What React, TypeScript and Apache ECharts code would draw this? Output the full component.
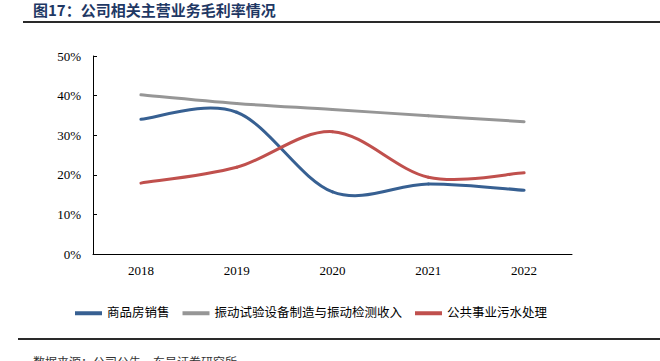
import React, { useEffect, useRef } from "react";
import * as echarts from "echarts";

const categories = ["2018", "2019", "2020", "2021", "2022"];
const seriesNames = ["商品房销售", "振动试验设备制造与振动检测收入", "公共事业污水处理"];
const housingSales = [34.0, 35.8, 15.7, 17.7, 16.1];
const vibrationTesting = [40.2, 38.0, 36.5, 34.9, 33.4];
const sewageTreatment = [17.9, 21.9, 30.9, 19.4, 20.5];
const yTicks = [0, 10, 20, 30, 40, 50];

const titleText = "图17：公司相关主营业务毛利率情况";
const sourceText = "数据来源：公司公告，东吴证券研究所";

export default function App() {
  const ref = useRef<HTMLDivElement>(null);
  useEffect(() => {
    document.body.style.margin = "0";
    if (!ref.current) return;
    const chart = echarts.init(ref.current, null, { renderer: "svg" });
    const serif = "'Liberation Serif', 'Times New Roman', serif";
    const cjk = "'Liberation Serif', 'Noto Sans CJK SC', serif";
    const colors = ["#376092", "#969696", "#C0504D"];
    const data = [housingSales, vibrationTesting, sewageTreatment];

    const makeRender = (values: number[], color: string) => (params: any, api: any) => {
      const i = params.dataIndex;
      const n = values.length;
      if (i >= n - 1) return { type: "group", children: [] };
      const c = (k: number) => api.coord([Math.max(0, Math.min(n - 1, k)), values[Math.max(0, Math.min(n - 1, k))]]);
      const p0 = c(i - 1);
      const p1 = c(i);
      const p2 = c(i + 1);
      const p3 = c(i + 2);
      return {
        type: "bezierCurve",
        shape: {
          x1: p1[0],
          y1: p1[1],
          x2: p2[0],
          y2: p2[1],
          cpx1: p1[0] + (p2[0] - p0[0]) / 6,
          cpy1: p1[1] + (p2[1] - p0[1]) / 6,
          cpx2: p2[0] - (p3[0] - p1[0]) / 6,
          cpy2: p2[1] - (p3[1] - p1[1]) / 6,
        },
        style: { stroke: color, lineWidth: 3, fill: null, lineCap: "round" },
      };
    };

    chart.setOption({
      animation: false,
      backgroundColor: "#ffffff",
      color: colors,
      grid: { left: 93, right: 88, top: 56, bottom: 107, containLabel: false },
      graphic: [
        {
          type: "line",
          shape: { x1: 23, y1: 22, x2: 660, y2: 22 },
          style: { stroke: "#2a2a2a", lineWidth: 2 },
        },
        {
          type: "line",
          shape: { x1: 18, y1: 339, x2: 660, y2: 339 },
          style: { stroke: "#2a2a2a", lineWidth: 2 },
        },
        {
          type: "text",
          x: 33,
          y: 9,
          style: {
            text: titleText,
            font: "bold 15px 'Noto Sans CJK SC', sans-serif",
            fill: "#1F3864",
            verticalAlign: "middle",
            align: "left",
          },
        },
        {
          type: "text",
          x: 33,
          y: 355,
          style: {
            text: sourceText,
            font: "12px 'Noto Sans CJK SC', sans-serif",
            fill: "#333333",
            verticalAlign: "top",
          },
        },
      ],
      legend: {
        top: 302,
        left: 70,
        itemWidth: 27,
        itemHeight: 4,
        itemGap: 13,
        icon: "rect",
        textStyle: { fontFamily: cjk, fontSize: 12.5, color: "#000000", padding: [0, 0, 0, 0] },
        data: seriesNames.map((name, i) => ({ name, itemStyle: { color: colors[i] } })),
      },
      xAxis: {
        type: "category",
        data: categories,
        boundaryGap: true,
        axisLine: { lineStyle: { color: "#000000", width: 1 } },
        axisTick: { inside: true, length: 4, lineStyle: { color: "#000000" } },
        axisLabel: { fontFamily: serif, fontSize: 13, color: "#000000", margin: 10 },
        splitLine: { show: false },
      },
      yAxis: {
        type: "value",
        min: yTicks[0],
        max: yTicks[yTicks.length - 1],
        interval: 10,
        axisLine: { show: true, lineStyle: { color: "#000000", width: 1 } },
        axisTick: { show: true, inside: true, length: 4, lineStyle: { color: "#000000" } },
        axisLabel: { fontFamily: serif, fontSize: 13, color: "#000000", margin: 12, formatter: "{value}%" },
        splitLine: { show: false },
      },
      series: seriesNames.map((name, i) => ({
        name,
        type: "custom",
        coordinateSystem: "cartesian2d",
        data: data[i].map((v, k) => [k, v]),
        encode: { x: 0, y: 1 },
        itemStyle: { color: colors[i] },
        renderItem: makeRender(data[i], colors[i]),
      })),
    });
    return () => chart.dispose();
  }, []);
  return <div ref={ref} style={{ width: 660, height: 361 }} />;
}
